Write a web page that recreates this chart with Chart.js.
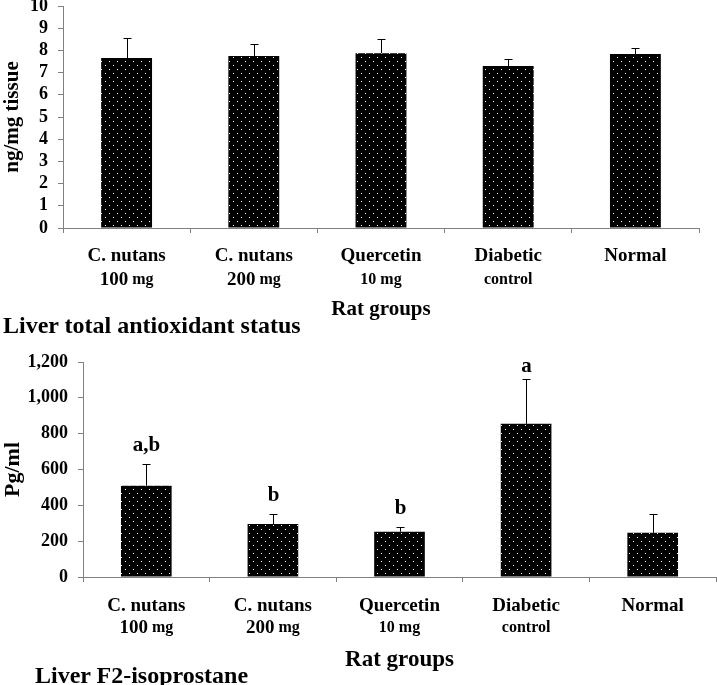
<!DOCTYPE html>
<html>
<head>
<meta charset="utf-8">
<script src="https://cdn.jsdelivr.net/npm/chart.js@4.4.3/dist/chart.umd.min.js"></script>
<style>
  body { margin: 0; background: #fff; }
  #wrap { position: relative; width: 717px; height: 685px; overflow: hidden;
          font-family: 'Liberation Serif', 'Times New Roman', serif; font-weight: bold; }
  canvas { position: absolute; left: 0; }
  .title { position: absolute; font-size: 24px; line-height: 24px; white-space: nowrap; color: #000; }
</style>
</head>
<body>
<div id="wrap">
  <canvas id="tas" width="717" height="340" style="top:0"></canvas>
  <canvas id="f2" width="717" height="345" style="top:340px"></canvas>
  <div class="title" style="left:3px; top:313px">Liver total antioxidant status</div>
  <div class="title" style="left:35px; top:663px">Liver F2-isoprostane</div>
</div>
<script>
// rat groups (two-line labels)
const groupNames = ['C. nutans', 'C. nutans', 'Quercetin', 'Diabetic', 'Normal'];
const groupDoses = ['100 mg', '200 mg', '10 mg', 'control', ''];

// liver total antioxidant status, ng/mg tissue
const tasMeans = [7.66, 7.75, 7.87, 7.30, 7.84];
const tasErrors = [0.91, 0.54, 0.63, 0.30, 0.26];

// liver F2-isoprostane, Pg/ml
const f2Means = [510, 296, 253, 855, 247];
const f2Errors = [120, 56, 28, 249, 105];
const f2Letters = ['a,b', 'b', 'b', 'a', ''];

const FONT = "'Liberation Serif', 'Times New Roman', serif";
const AXIS = '#808080';

function dotPattern() {
    const c = document.createElement('canvas');
    c.width = 8; c.height = 8;
    const g = c.getContext('2d');
    g.fillStyle = '#000';
    g.fillRect(0, 0, 8, 8);
    g.fillStyle = '#fff';
    g.fillRect(1, 1, 1, 1);
    g.fillRect(5, 5, 1, 1);
    return g.createPattern(c, 'repeat');
}

// error bar (upper half only) + significance letters
const errorBars = {
    id: 'errorBars',
    afterDatasetsDraw(chart, args, opts) {
        const ctx = chart.ctx;
        const y = chart.scales.y;
        const meta = chart.getDatasetMeta(0);
        ctx.save();
        ctx.strokeStyle = '#000';
        ctx.lineWidth = 1;
        meta.data.forEach((bar, i) => {
            const top = Math.round(y.getPixelForValue(opts.means[i] + opts.errors[i])) + 0.5;
            const x = Math.round(bar.x) + 0.5;
            ctx.beginPath();
            ctx.moveTo(x, bar.y);
            ctx.lineTo(x, top);
            ctx.moveTo(x - 4, top);
            ctx.lineTo(x + 4, top);
            ctx.stroke();
            const letter = opts.letters ? opts.letters[i] : '';
            if (letter) {
                ctx.fillStyle = '#000';
                ctx.font = `bold 21px ${FONT}`;
                ctx.textAlign = 'center';
                ctx.textBaseline = 'middle';
                ctx.fillText(letter, x, Math.max(top - 19, chart.chartArea.top + 5));
            }
        });
        ctx.restore();
    }
};

// two-line category labels with mixed sizes
const groupLabels = {
    id: 'groupLabels',
    afterDraw(chart, args, opts) {
        const ctx = chart.ctx;
        const xs = chart.scales.x;
        const base = chart.chartArea.bottom;
        ctx.save();
        ctx.fillStyle = '#000';
        ctx.textBaseline = 'middle';
        groupNames.forEach((name, i) => {
            const x = xs.getPixelForValue(i);
            ctx.textAlign = 'center';
            ctx.font = `bold 19px ${FONT}`;
            ctx.fillText(name, x, base + opts.line1);
            const dose = groupDoses[i];
            if (!dose) return;
            const parts = dose.split(' ').map((w, k) => ({
                text: (k > 0 ? ' ' : '') + w,
                font: /^\d{3}$/.test(w) ? `bold 19px ${FONT}` : `bold 16px ${FONT}`
            }));
            let total = 0;
            parts.forEach(p => { ctx.font = p.font; p.w = ctx.measureText(p.text).width; total += p.w; });
            let cx = x - total / 2;
            ctx.textAlign = 'left';
            parts.forEach(p => {
                ctx.font = p.font;
                ctx.fillText(p.text, cx, base + opts.line2);
                cx += p.w;
            });
        });
        ctx.restore();
    }
};

function makeChart(id, o) {
    return new Chart(document.getElementById(id), {
        type: 'bar',
        data: {
            labels: groupNames,
            datasets: [{
                data: o.means,
                backgroundColor: dotPattern(),
                borderWidth: 0,
                barPercentage: 0.4,
                categoryPercentage: 1
            }]
        },
        options: {
            responsive: false,
            animation: false,
            locale: 'en-US',
            layout: { padding: { top: o.top, right: o.right, bottom: 0, left: 0 } },
            plugins: {
                legend: { display: false },
                tooltip: { enabled: false },
                errorBars: { means: o.means, errors: o.errors, letters: o.letters },
                groupLabels: { line1: o.line1, line2: o.line2 }
            },
            scales: {
                x: {
                    ticks: { display: false },
                    grid: { drawOnChartArea: false, drawTicks: true, tickLength: 5, offset: true, color: AXIS },
                    border: { color: AXIS },
                    title: {
                        display: true, text: 'Rat groups', color: '#000',
                        font: { family: FONT, size: o.xTitleSize, weight: 'bold' },
                        padding: { top: 0, bottom: o.xTitlePad }
                    },
                    afterFit(s) { s.height = o.xHeight; }
                },
                y: {
                    min: 0,
                    max: o.max,
                    ticks: {
                        stepSize: o.step, autoSkip: false, color: '#000', padding: 10,
                        font: { family: FONT, size: 18, weight: 'bold' }
                    },
                    grid: { drawOnChartArea: false, drawTicks: true, tickLength: 5, color: AXIS },
                    border: { color: AXIS },
                    title: {
                        display: true, text: o.yTitle, color: '#000',
                        font: { family: FONT, size: o.yTitleSize, weight: 'bold' },
                        padding: 0
                    },
                    afterFit(s) { s.width = o.yWidth; s.paddingTop = o.top; }
                }
            }
        },
        plugins: [errorBars, groupLabels]
    });
}

makeChart('tas', {
    means: tasMeans, errors: tasErrors, letters: null,
    max: 10, step: 1, yTitle: 'ng/mg tissue', yTitleSize: 21,
    top: 6, right: 18, yWidth: 63, xHeight: 112,
    line1: 28, line2: 52, xTitleSize: 21, xTitlePad: 18
});

makeChart('f2', {
    means: f2Means, errors: f2Errors, letters: f2Letters,
    max: 1200, step: 200, yTitle: 'Pg/ml', yTitleSize: 22,
    top: 22, right: 1, yWidth: 83, xHeight: 108,
    line1: 29, line2: 51, xTitleSize: 23, xTitlePad: 11
});
</script>
</body>
</html>
